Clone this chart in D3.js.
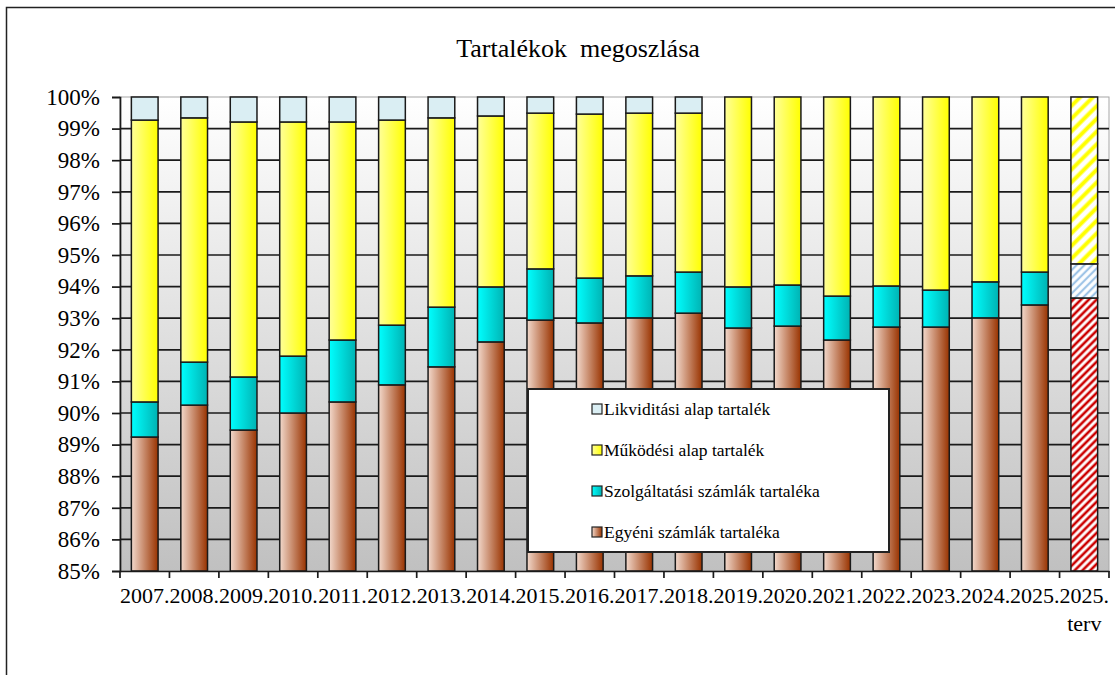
<!DOCTYPE html>
<html>
<head>
<meta charset="utf-8">
<script src="https://cdn.jsdelivr.net/npm/d3@7"></script>
<style>
  html, body { margin: 0; padding: 0; background: #fff; }
  svg { display: block; }
  text { font-family: "Liberation Serif", "Times New Roman", serif; fill: #000; }
</style>
</head>
<body>
<svg id="chart" width="1115" height="675"></svg>
<script>
// ---- data ----
const categories = ["2007.","2008.","2009.","2010.","2011.","2012.","2013.","2014.","2015.","2016.","2017.","2018.","2019.","2020.","2021.","2022.","2023.","2024.","2025.","2025. terv"];
const egyeni = [89.24, 90.25, 89.46, 90.00, 90.35, 90.89, 91.46, 92.25, 92.94, 92.85, 93.01, 93.16, 92.69, 92.75, 92.31, 92.72, 92.72, 93.01, 93.42, 93.64];
const szolgaltatasi = [1.11, 1.36, 1.68, 1.80, 1.96, 1.89, 1.89, 1.74, 1.62, 1.42, 1.33, 1.30, 1.30, 1.30, 1.39, 1.30, 1.17, 1.14, 1.04, 1.08];
const mukodesi = [8.92, 7.73, 8.07, 7.41, 6.90, 6.49, 5.99, 5.41, 4.93, 5.19, 5.15, 5.03, 6.01, 5.95, 6.30, 5.98, 6.11, 5.85, 5.54, 5.28];
const likviditasi = [0.73, 0.66, 0.79, 0.79, 0.79, 0.73, 0.66, 0.60, 0.51, 0.54, 0.51, 0.51, 0, 0, 0, 0, 0, 0, 0, 0];
const seriesNames = ["Egyéni számlák tartaléka", "Szolgáltatási számlák tartaléka", "Működési alap tartalék", "Likviditási alap tartalék"];
const yTicks = [85, 86, 87, 88, 89, 90, 91, 92, 93, 94, 95, 96, 97, 98, 99, 100];
const title = "Tartalékok  megoszlása";

// ---- layout ----
const svg = d3.select("#chart");
const plot = { left: 120, right: 1109, top: 97, bottom: 571 };
const x = d3.scaleBand().domain(categories).range([plot.left, plot.right]).paddingInner(0.46).paddingOuter(0.23);
const y = d3.scaleLinear().domain([85, 100]).range([plot.bottom, plot.top]);

const defs = svg.append("defs");
// background gradient
const bg = defs.append("linearGradient").attr("id", "bg").attr("x1", 0).attr("y1", 0).attr("x2", 0).attr("y2", 1);
bg.append("stop").attr("offset", "0%").attr("stop-color", "#ffffff");
bg.append("stop").attr("offset", "100%").attr("stop-color", "#c0c0c0");

const grads = [
  { id: "g0", c1: "#f2d9cc", c2: "#993300" },
  { id: "g1", c1: "#00ffff", c2: "#00b3b3" },
  { id: "g2", c1: "#ffff99", c2: "#ffff00" },
  { id: "g3", c1: "#daeef3", c2: "#daeef3" }
];
grads.forEach(g => {
  const lg = defs.append("linearGradient").attr("id", g.id).attr("x1", 0).attr("y1", 0).attr("x2", 1).attr("y2", 0);
  lg.append("stop").attr("offset", "0%").attr("stop-color", g.c1);
  lg.append("stop").attr("offset", "100%").attr("stop-color", g.c2);
});
// hatch patterns for plan bar
const hatches = [
  { id: "h0", color: "#cc0000", w: 5.5, sw: 2.6 },
  { id: "h1", color: "#9dc3e6", w: 5.5, sw: 2.2 },
  { id: "h2", color: "#ffff00", w: 9, sw: 4 },
  { id: "h3", color: "#daeef3", w: 6, sw: 3 }
];
hatches.forEach(h => {
  const p = defs.append("pattern").attr("id", h.id).attr("patternUnits", "userSpaceOnUse")
    .attr("width", h.w).attr("height", h.w).attr("patternTransform", "rotate(45)");
  p.append("rect").attr("width", h.w).attr("height", h.w).attr("fill", "#fff");
  p.append("line").attr("x1", h.w / 2).attr("y1", 0).attr("x2", h.w / 2).attr("y2", h.w)
    .attr("stroke", h.color).attr("stroke-width", h.sw);
});

// outer frame
svg.append("rect").attr("x", 6.5).attr("y", 7.5).attr("width", 1130).attr("height", 700)
  .attr("fill", "#fff").attr("stroke", "#222").attr("stroke-width", 1.5);

// title
svg.append("text").attr("x", 578).attr("y", 57).attr("text-anchor", "middle")
  .style("font-size", "26px").style("white-space", "pre").attr("xml:space", "preserve").text(title);

// plot background
svg.append("rect").attr("x", plot.left).attr("y", plot.top).attr("width", plot.right - plot.left)
  .attr("height", plot.bottom - plot.top).attr("fill", "url(#bg)").attr("stroke", "#a6a6a6").attr("stroke-width", 1);

// gridlines
svg.append("g").selectAll("line").data(yTicks.filter(t => t > 85 && t < 100)).join("line")
  .attr("x1", plot.left).attr("x2", plot.right)
  .attr("y1", d => y(d)).attr("y2", d => y(d))
  .attr("stroke", "#1a1a1a").attr("stroke-width", 1.7);

// stacked bars
const rows = categories.map((c, i) => ({ cat: c, v0: egyeni[i], v1: szolgaltatasi[i], v2: mukodesi[i], v3: likviditasi[i] }));
const stack = d3.stack().keys(["v0", "v1", "v2", "v3"]).offset(d3.stackOffsetNone);
const stacked = stack(rows);
const lastCat = categories[categories.length - 1];
stacked.forEach((layer, si) => {
  svg.append("g").selectAll("rect").data(layer.filter(d => d[1] - d[0] > 0)).join("rect")
    .attr("x", d => x(d.data.cat))
    .attr("width", x.bandwidth())
    .attr("y", d => y(Math.min(d[1], 100)))
    .attr("height", d => y(Math.max(d[0], 85)) - y(Math.min(d[1], 100)))
    .attr("fill", d => d.data.cat === lastCat ? `url(#h${si})` : `url(#g${si})`)
    .attr("stroke", "#1a1a1a").attr("stroke-width", 1.5);
});

// y axis
const yAxis = svg.append("g").attr("transform", `translate(${plot.left},0)`)
  .call(d3.axisLeft(y).tickValues(yTicks).tickFormat(d => d + "%").tickSize(8).tickPadding(12));
yAxis.select(".domain").attr("stroke", "#1a1a1a").attr("stroke-width", 1.7);
yAxis.selectAll(".tick line").attr("stroke", "#1a1a1a").attr("stroke-width", 1.7);
yAxis.selectAll(".tick text").style("font-size", "23px").style("font-family", "Liberation Serif").attr("fill", "#000");

// x axis
const xAxis = svg.append("g").attr("transform", `translate(0,${plot.bottom})`)
  .call(d3.axisBottom(x).tickSize(0).tickFormat(""));
xAxis.select(".domain").attr("stroke", "#1a1a1a").attr("stroke-width", 1.7);
const step = x.step();
const tickXs = d3.range(categories.length + 1).map(i => plot.left + i * step);
xAxis.append("g").selectAll("line").data(tickXs).join("line")
  .attr("x1", d => d).attr("x2", d => d).attr("y1", 0).attr("y2", 7)
  .attr("stroke", "#1a1a1a").attr("stroke-width", 1.7);
xAxis.append("g").selectAll("text").data(categories).join("text")
  .attr("x", d => x(d) + x.bandwidth() / 2)
  .attr("text-anchor", "middle")
  .style("font-size", "22px")
  .each(function (d) {
    const parts = d.split(" ");
    const t = d3.select(this);
    parts.forEach((p, k) => t.append("tspan").attr("x", x(d) + x.bandwidth() / 2).attr("y", 32 + k * 28).text(p));
  });

// legend
const lg = svg.append("g");
lg.append("rect").attr("x", 528).attr("y", 389).attr("width", 361).attr("height", 163)
  .attr("fill", "#fff").attr("stroke", "#222").attr("stroke-width", 2);
const legendOrder = [3, 2, 1, 0];
legendOrder.forEach((si, k) => {
  const cy = 409 + k * 41;
  lg.append("rect").attr("x", 592).attr("y", cy - 5).attr("width", 10).attr("height", 10)
    .attr("fill", `url(#g${si})`).attr("stroke", "#222").attr("stroke-width", 1.2);
  lg.append("text").attr("x", 604).attr("y", cy + 6).style("font-size", "17.5px").text(seriesNames[si]);
});
</script>
</body>
</html>
